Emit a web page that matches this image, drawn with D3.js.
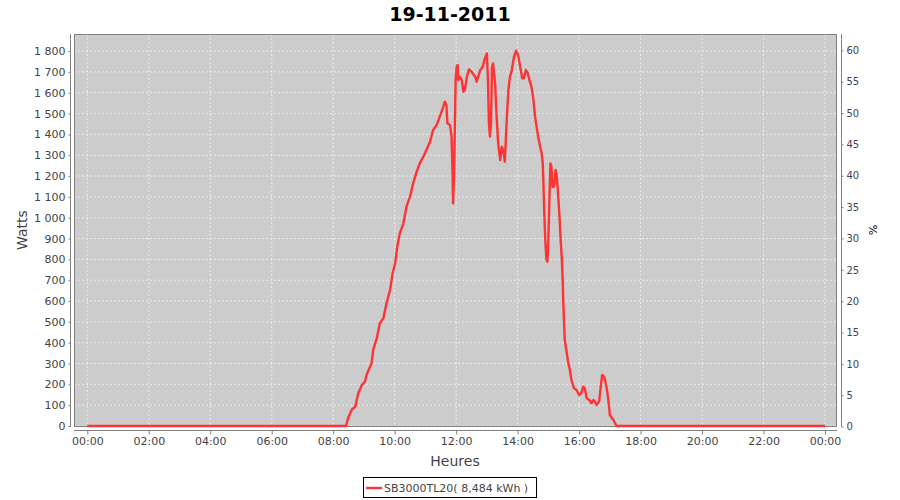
<!DOCTYPE html>
<html><head><meta charset="utf-8">
<script src="https://cdn.jsdelivr.net/npm/d3@7"></script>
<style>body{margin:0;background:#fff;} svg{display:block;} text{font-family:"DejaVu Sans",sans-serif;}</style>
</head><body>
<svg id="c" width="900" height="500"></svg>
<script>
const title = "19-11-2011";
const seriesName = "SB3000TL20( 8,484 kWh )";
const times = ["00:00","08:25","08:29","08:36","08:43","08:49","08:56","09:02","09:05","09:12","09:15","09:18","09:25","09:31","09:38","09:44","09:51","09:56","10:01","10:05","10:10","10:17","10:23","10:30","10:36","10:43","10:49","10:56","11:02","11:09","11:15","11:22","11:28","11:35","11:38","11:41","11:43","11:48","11:51","11:53","11:54","11:56","11:59","12:01","12:03","12:04","12:07","12:11","12:14","12:17","12:21","12:25","12:30","12:37","12:40","12:43","12:47","12:52","12:55","13:00","13:02","13:04","13:06","13:08","13:10","13:12","13:16","13:19","13:22","13:26","13:29","13:32","13:35","13:39","13:42","13:45","13:48","13:53","13:57","14:01","14:05","14:09","14:12","14:16","14:20","14:23","14:27","14:31","14:34","14:37","14:40","14:44","14:47","14:49","14:50","14:52","14:54","14:56","14:58","15:00","15:02","15:04","15:06","15:08","15:11","15:14","15:16","15:18","15:21","15:24","15:26","15:28","15:29","15:32","15:36","15:39","15:42","15:45","15:50","15:55","16:00","16:04","16:08","16:11","16:15","16:20","16:24","16:28","16:31","16:34","16:39","16:43","16:45","16:49","16:54","16:57","17:00","17:07","17:13","24:00"];
const watts = [0,0,37,77,93,157,197,213,245,285,301,365,421,493,517,589,653,733,781,861,925,973,1053,1101,1165,1221,1261,1293,1325,1365,1421,1445,1485,1533,1557,1541,1453,1445,1389,1213,1069,1213,1661,1725,1733,1661,1677,1661,1605,1613,1677,1712,1701,1677,1653,1677,1709,1725,1757,1789,1661,1453,1389,1453,1725,1741,1645,1485,1357,1277,1341,1325,1269,1485,1613,1677,1701,1773,1802,1781,1725,1669,1669,1709,1693,1661,1629,1565,1485,1437,1389,1341,1309,1261,1197,1021,893,805,789,893,1085,1261,1245,1149,1149,1229,1213,1149,1037,893,813,701,600,413,349,301,269,221,181,173,149,157,189,181,133,125,109,125,117,101,117,205,245,237,181,125,53,29,0,0];
const hourTicks = [0,2,4,6,8,10,12,14,16,18,20,22,24];
const wattTicks = d3.range(0, 1801, 100);
const pctTicks = d3.range(0, 61, 5);
const yLabel = "Watts", xLabel = "Heures", y2Label = "%";

const svg = d3.select("#c");
const P = {l:74, r:837, t:34, b:427};
const toH = s => { const [h,m] = s.split(":").map(Number); return h + m/60; };
const x = d3.scaleLinear().domain([-0.433, 24.39]).range([P.l, P.r]);
const y = d3.scaleLinear().domain([0, 1882]).range([426, P.t]);
const y2 = d3.scaleLinear().domain([0, 62.6]).range([426.7, P.t]);

svg.append("text").attr("x",450).attr("y",21).attr("text-anchor","middle")
  .attr("font-size",19).attr("font-weight","bold").attr("fill","#000").text(title);

svg.append("rect").attr("x",P.l).attr("y",P.t).attr("width",P.r-P.l).attr("height",P.b-P.t)
  .attr("fill","#cccccc");

const grid = svg.append("g").attr("stroke","#f4f4f4").attr("stroke-width",0.8).attr("stroke-dasharray","2,2");
grid.selectAll(".gx").data(hourTicks).join("line")
  .attr("x1",d=>x(d)).attr("x2",d=>x(d)).attr("y1",P.t).attr("y2",P.b);
grid.selectAll(".gy").data(wattTicks).join("line")
  .attr("x1",P.l).attr("x2",P.r).attr("y1",d=>y(d)).attr("y2",d=>y(d));

svg.append("rect").attr("x",P.l+0.5).attr("y",P.t+0.5).attr("width",P.r-P.l-1).attr("height",P.b-P.t-1)
  .attr("fill","none").attr("stroke","#808080").attr("stroke-width",1);

const pts = times.map((t,i)=>[toH(t), watts[i]]);
svg.append("path").datum(pts)
  .attr("d", d3.line().x(d=>x(d[0])).y(d=>y(d[1])))
  .attr("fill","none").attr("stroke","#ff3333").attr("stroke-width",2.4).attr("stroke-linejoin","round");

function styleAxis(g, fs){
  g.selectAll("path.domain").attr("stroke","#808080");
  g.selectAll(".tick line").attr("stroke","#808080");
  g.selectAll(".tick text").attr("fill","#444").attr("font-size",fs).attr("font-family","DejaVu Sans");
}
const fmtW = d => d >= 1000 ? Math.floor(d/1000) + " " + String(d%1000).padStart(3,"0") : String(d);
const gl = svg.append("g").attr("transform","translate(70.5,0)")
  .call(d3.axisLeft(y).tickValues(wattTicks).tickFormat(fmtW).tickSize(2).tickSizeOuter(0).tickPadding(3));
gl.select("path.domain").attr("d",`M0,${P.t}V${P.b}`);
styleAxis(gl, 11);

const gr = svg.append("g").attr("transform","translate(841.5,0)")
  .call(d3.axisRight(y2).tickValues(pctTicks).tickSize(2).tickSizeOuter(0).tickPadding(3));
gr.select("path.domain").attr("d",`M0,${P.t}V${P.b}`);
styleAxis(gr, 10);

const gb = svg.append("g").attr("transform","translate(0,430.5)")
  .call(d3.axisBottom(x).tickValues(hourTicks).tickFormat(d=>String(d%24).padStart(2,"0")+":00").tickSize(4).tickSizeOuter(0).tickPadding(3));
gb.select("path.domain").attr("d",`M${P.l},0H${P.r}`);
styleAxis(gb, 11);

svg.append("text").attr("transform","translate(27,230) rotate(-90)").attr("text-anchor","middle")
  .attr("font-size",14).attr("fill","#444").text(yLabel);
svg.append("text").attr("x",455).attr("y",466).attr("text-anchor","middle")
  .attr("font-size",14).attr("fill","#444").text(xLabel);
svg.append("text").attr("transform","translate(869,230) rotate(90)").attr("text-anchor","middle")
  .attr("font-size",11).attr("fill","#000").text(y2Label);

const lg = svg.append("g");
lg.append("rect").attr("x",363.5).attr("y",477.5).attr("width",173).attr("height",20)
  .attr("fill","#fff").attr("stroke","#000").attr("stroke-width",1);
lg.append("line").attr("x1",366).attr("x2",382).attr("y1",488).attr("y2",488)
  .attr("stroke","#ff3333").attr("stroke-width",2.4);
lg.append("text").attr("x",384).attr("y",492).attr("font-size",11).attr("fill","#444").text(seriesName);
</script>
</body></html>
